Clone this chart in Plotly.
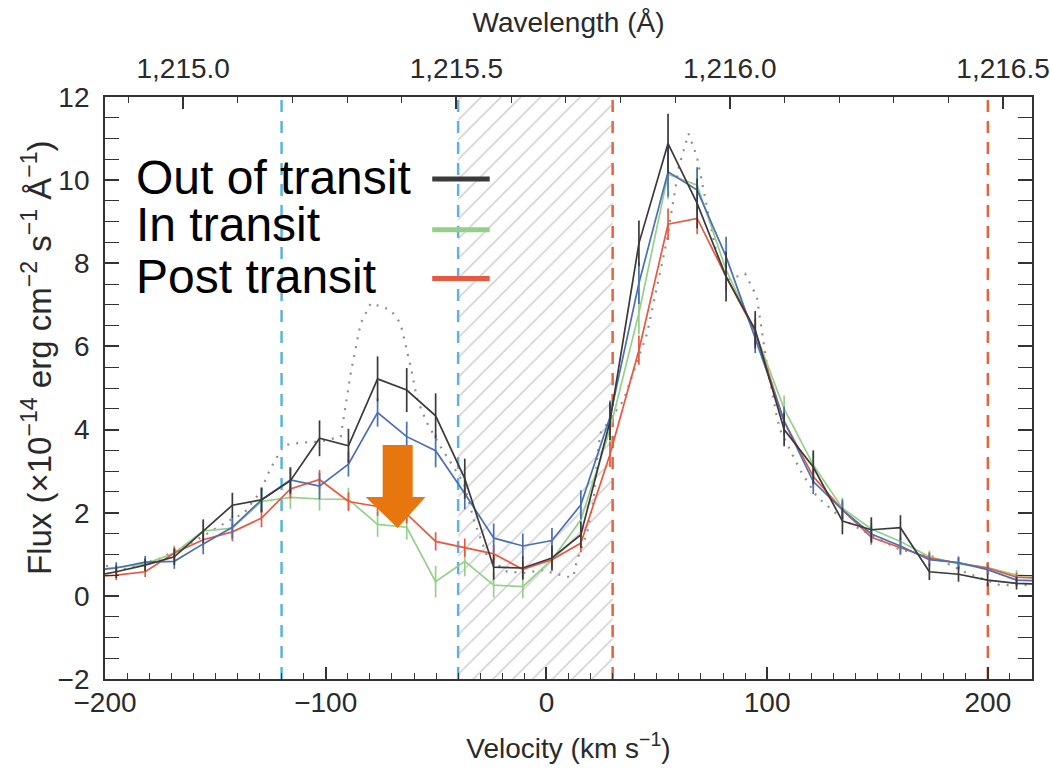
import plotly.graph_objects as go

# ---------------- data ----------------
velocity = [-208.1, -194.9, -181.8, -168.6, -155.5, -142.3, -129.1, -116.0, -102.8, -89.7,
            -76.5, -63.3, -50.2, -37.0, -23.9, -10.7, 2.5, 15.6, 28.8, 41.9,
            55.1, 68.3, 81.4, 94.6, 107.7, 120.9, 134.1, 147.2, 160.4, 173.5,
            186.7, 199.9, 213.0, 226.2]

flux_out = [0.45, 0.58, 0.74, 0.94, 1.56, 2.18, 2.31, 2.77, 3.79, 3.61,
            5.22, 4.95, 4.33, 2.82, 0.69, 0.67, 0.91, 1.47, 4.20, 8.48,
            10.88, 9.44, 7.68, 6.40, 4.00, 3.10, 1.80, 1.59, 1.64, 0.58,
            0.52, 0.38, 0.30, 0.28]
err_out = [0.15, 0.15, 0.15, 0.20, 0.28, 0.30, 0.30, 0.32, 0.43, 0.41,
           0.54, 0.53, 0.54, 0.48, 0.30, 0.28, 0.30, 0.32, 0.45, 0.55,
           0.72, 0.60, 0.60, 0.45, 0.40, 0.40, 0.32, 0.30, 0.30, 0.20,
           0.18, 0.15, 0.15, 0.15]

flux_blue = [0.60, 0.67, 0.81, 0.83, 1.25, 1.65, 2.31, 2.79, 2.64, 3.17,
             4.41, 3.83, 3.49, 2.46, 1.39, 1.20, 1.33, 2.19, 4.30, 7.52,
             10.20, 9.76, 8.16, 6.20, 4.20, 2.75, 2.07, 1.49, 1.20, 0.87,
             0.80, 0.63, 0.38, 0.35]
err_blue = [0.13, 0.13, 0.15, 0.18, 0.25, 0.27, 0.28, 0.30, 0.32, 0.30,
            0.34, 0.36, 0.40, 0.38, 0.35, 0.30, 0.30, 0.35, 0.40, 0.50,
            0.60, 0.55, 0.48, 0.36, 0.35, 0.30, 0.25, 0.22, 0.20, 0.15,
            0.15, 0.12, 0.12, 0.12]

flux_in = [0.60, 0.69, 0.77, 1.03, 1.56, 1.63, 2.27, 2.37, 2.33, 2.32,
           1.72, 1.65, 0.34, 0.83, 0.26, 0.22, 0.87, 1.83, 4.00, 6.80,
           10.14, 9.88, 7.84, 6.35, 4.50, 3.15, 2.11, 1.61, 1.31, 0.94,
           0.77, 0.68, 0.50, 0.45]
err_in = [0.13, 0.13, 0.15, 0.18, 0.25, 0.25, 0.27, 0.28, 0.28, 0.28,
          0.30, 0.30, 0.38, 0.36, 0.30, 0.28, 0.28, 0.30, 0.40, 0.50,
          0.60, 0.42, 0.45, 0.35, 0.32, 0.30, 0.25, 0.22, 0.20, 0.15,
          0.15, 0.12, 0.12, 0.12]

flux_post = [0.45, 0.50, 0.58, 1.03, 1.35, 1.54, 1.87, 2.57, 2.80, 2.27,
             2.15, 1.97, 1.31, 1.16, 1.01, 0.64, 0.87, 1.27, 3.40, 5.91,
             8.94, 9.08, 7.68, 6.35, 4.20, 2.87, 2.07, 1.41, 1.15, 0.91,
             0.79, 0.67, 0.45, 0.42]
err_post = [0.12, 0.12, 0.13, 0.15, 0.20, 0.22, 0.22, 0.23, 0.23, 0.22,
            0.22, 0.22, 0.22, 0.22, 0.22, 0.20, 0.20, 0.22, 0.30, 0.35,
            0.38, 0.38, 0.35, 0.30, 0.28, 0.25, 0.20, 0.18, 0.16, 0.14,
            0.13, 0.12, 0.11, 0.11]

model_v = [-199.5, -190.5, -175.0, -160.0, -152.0, -144.5, -137.0, -129.4, -126.4, -124.1,
           -118.9, -109.8, -102.3, -93.2, -88.7, -84.2, -79.6, -70.6, -66.1, -61.5,
           -58.5, -54.0, -48.0, -37.4, -32.9, -29.9, -26.8, -17.8, -8.7, -2.7,
           3.3, 9.4, 12.2, 13.9, 18.4, 21.4, 22.9, 24.4, 35.0, 45.6,
           54.6, 59.9, 64.4, 68.2, 72.7, 77.2, 82.0, 90.0, 95.3, 99.9,
           104.4, 105.9, 114.9, 122.5, 134.5, 148.1, 160.2, 175.3, 190.4, 205.4, 219.0]
model_f = [0.72, 0.65, 0.90, 1.30, 1.55, 1.79, 1.99, 2.51, 2.91, 3.15,
           3.63, 3.69, 3.71, 3.83, 5.35, 6.55, 7.04, 6.88, 6.55, 5.51,
           4.71, 4.15, 3.59, 2.71, 1.83, 1.39, 0.94, 0.58, 0.55, 0.63,
           0.55, 0.46, 0.46, 0.87, 1.51, 2.31, 3.27, 3.91, 4.71, 6.31,
           8.56, 10.30, 11.12, 10.56, 9.36, 8.20, 7.60, 7.75, 7.20, 5.55,
           4.31, 3.99, 3.03, 2.39, 1.83, 1.43, 1.11, 0.94, 0.55, 0.26, 0.26]

blue_lines = [-120, -40]
red_lines = [30, 200]
hatch_range = [-40, 30]

legend_labels = ["Out of transit", "In transit", "Post transit"]

x_range = [-200, 220]
y_range = [-2, 12]
wl_range = [1214.857, 1216.553]
wl_ticks = [1215.0, 1215.5, 1216.0, 1216.5]
wl_ticktext = ["1,215.0", "1,215.5", "1,216.0", "1,216.5"]

y_title = "Flux (×10<sup>−14</sup> erg cm<sup>−2</sup> s<sup>−1</sup> Å<sup>−1</sup>)"

# arrow (in data units)
arrow_shaft = [-74.2, -60.6]
arrow_head = [-81.9, -54.8]
arrow_y = [3.63, 2.38, 1.63]

# ---------------- styles ----------------
C_BLACK = "#3a3a3a"
C_BLUE = "#4a6fb5"
C_GREEN = "#95d08a"
C_RED = "#e8583f"
C_GREY = "#8f8f8f"
C_VBLUE = "#5ab4dc"
C_VRED = "#e8603c"
C_ORANGE = "#e8760f"
FONT = "Liberation Sans, Arial, Helvetica, sans-serif"
TXT = "#2a2a2a"

fig = go.Figure()

# hatched region
fig.add_trace(go.Scatter(
    x=[hatch_range[0], hatch_range[1], hatch_range[1], hatch_range[0], hatch_range[0]],
    y=[y_range[0], y_range[0], y_range[1], y_range[1], y_range[0]],
    mode="lines", fill="toself", fillcolor="rgba(0,0,0,0)",
    fillpattern=dict(shape="/", fgcolor="#a8a8a8", bgcolor="rgba(0,0,0,0)",
                     size=14, solidity=0.12),
    line=dict(width=0), hoverinfo="skip", showlegend=False))

# model
fig.add_trace(go.Scatter(x=model_v, y=model_f, mode="lines",
                         line=dict(color=C_GREY, width=2.2, dash="2px,7px"),
                         showlegend=False, hoverinfo="skip"))

series = [
    (flux_in, err_in, C_GREEN),
    (flux_post, err_post, C_RED),
    (flux_blue, err_blue, C_BLUE),
    (flux_out, err_out, C_BLACK),
]
for f, e, c in series:
    fig.add_trace(go.Scatter(
        x=velocity, y=f, mode="lines",
        line=dict(color=c, width=1.7),
        error_y=dict(type="data", array=e, visible=True, width=0,
                     thickness=1.7, color=c),
        showlegend=False))

# invisible trace for top axis
fig.add_trace(go.Scatter(x=wl_range, y=[None, None], xaxis="x2", yaxis="y",
                         mode="lines", showlegend=False, hoverinfo="skip"))

shapes = []
for v in blue_lines:
    shapes.append(dict(type="line", xref="x", yref="y", x0=v, x1=v,
                       y0=y_range[0], y1=y_range[1], layer="below",
                       line=dict(color=C_VBLUE, width=2.5, dash="12px,9px")))
for v in red_lines:
    shapes.append(dict(type="line", xref="x", yref="y", x0=v, x1=v,
                       y0=y_range[0], y1=y_range[1], layer="below",
                       line=dict(color=C_VRED, width=2.5, dash="12px,9px")))

# orange arrow
xm = (arrow_shaft[0] + arrow_shaft[1]) / 2
path = (f"M {arrow_shaft[0]},{arrow_y[0]} L {arrow_shaft[1]},{arrow_y[0]} "
        f"L {arrow_shaft[1]},{arrow_y[1]} L {arrow_head[1]},{arrow_y[1]} "
        f"L {xm},{arrow_y[2]} L {arrow_head[0]},{arrow_y[1]} "
        f"L {arrow_shaft[0]},{arrow_y[1]} Z")
shapes.append(dict(type="path", xref="x", yref="y", path=path,
                   fillcolor=C_ORANGE, line=dict(width=0), layer="above"))

# legend swatches
leg_colors = [C_BLACK, C_GREEN, C_RED]
leg_line_y = [0.859, 0.772, 0.688]
leg_text_y = [0.861, 0.781, 0.692]
annotations = []
for lab, col, ly, ty in zip(legend_labels, leg_colors, leg_line_y, leg_text_y):
    shapes.append(dict(type="line", xref="paper", yref="paper",
                       x0=0.353, x1=0.415, y0=ly, y1=ly,
                       line=dict(color=col, width=5)))
    annotations.append(dict(text=lab, xref="paper", yref="paper", x=0.031, y=ty,
                            xanchor="left", yanchor="middle", showarrow=False,
                            font=dict(size=48, color="#000000", family=FONT)))

# y-axis title (placed as rotated text, off-centre like the original)
annotations.append(dict(text=y_title, xref="paper", yref="paper",
                        x=-0.0735, y=0.553, xanchor="center", yanchor="middle",
                        textangle=-90, showarrow=False,
                        font=dict(size=33, color=TXT, family=FONT)))

axis_common = dict(showgrid=False, zeroline=False, showline=True, automargin=False,
                   linecolor="#333333", linewidth=1.8, ticks="inside",
                   tickcolor="#333333", tickwidth=1.5,
                   tickfont=dict(size=28, color=TXT, family=FONT))

fig.update_layout(
    width=1050, height=768,
    margin=dict(l=105, r=18, t=97, b=89),
    paper_bgcolor="white", plot_bgcolor="white",
    font=dict(family=FONT, color=TXT),
    shapes=shapes, annotations=annotations,
    xaxis=dict(range=x_range, dtick=100, ticklen=12, mirror=True,
               minor=dict(dtick=10, ticks="inside", ticklen=6,
                          tickcolor="#333333", tickwidth=1.2),
               title=dict(text="Velocity (km s<sup>−1</sup>)",
                          font=dict(size=28, family=FONT, color=TXT),
                          standoff=22),
               ticklabelstandoff=-3,
               **axis_common),
    xaxis2=dict(range=wl_range, overlaying="x", side="top", anchor="y",
                tickvals=wl_ticks, ticktext=wl_ticktext, ticklen=12,
                minor=dict(dtick=0.1, ticks="inside", ticklen=6,
                           tickcolor="#333333", tickwidth=1.2),
                title=dict(text="Wavelength (Å)",
                           font=dict(size=28, family=FONT, color=TXT),
                           standoff=12),
                ticklabelstandoff=6,
                **axis_common),
    yaxis=dict(range=y_range, dtick=2, ticklen=14, mirror="allticks",
               minor=dict(dtick=0.5, ticks="inside", ticklen=8,
                          tickcolor="#333333", tickwidth=1.2),
               ticklabelstandoff=8,
               **axis_common),
)

fig.write_html("out.html", config={"displayModeBar": False},
               post_script="document.body.style.margin='0';")
